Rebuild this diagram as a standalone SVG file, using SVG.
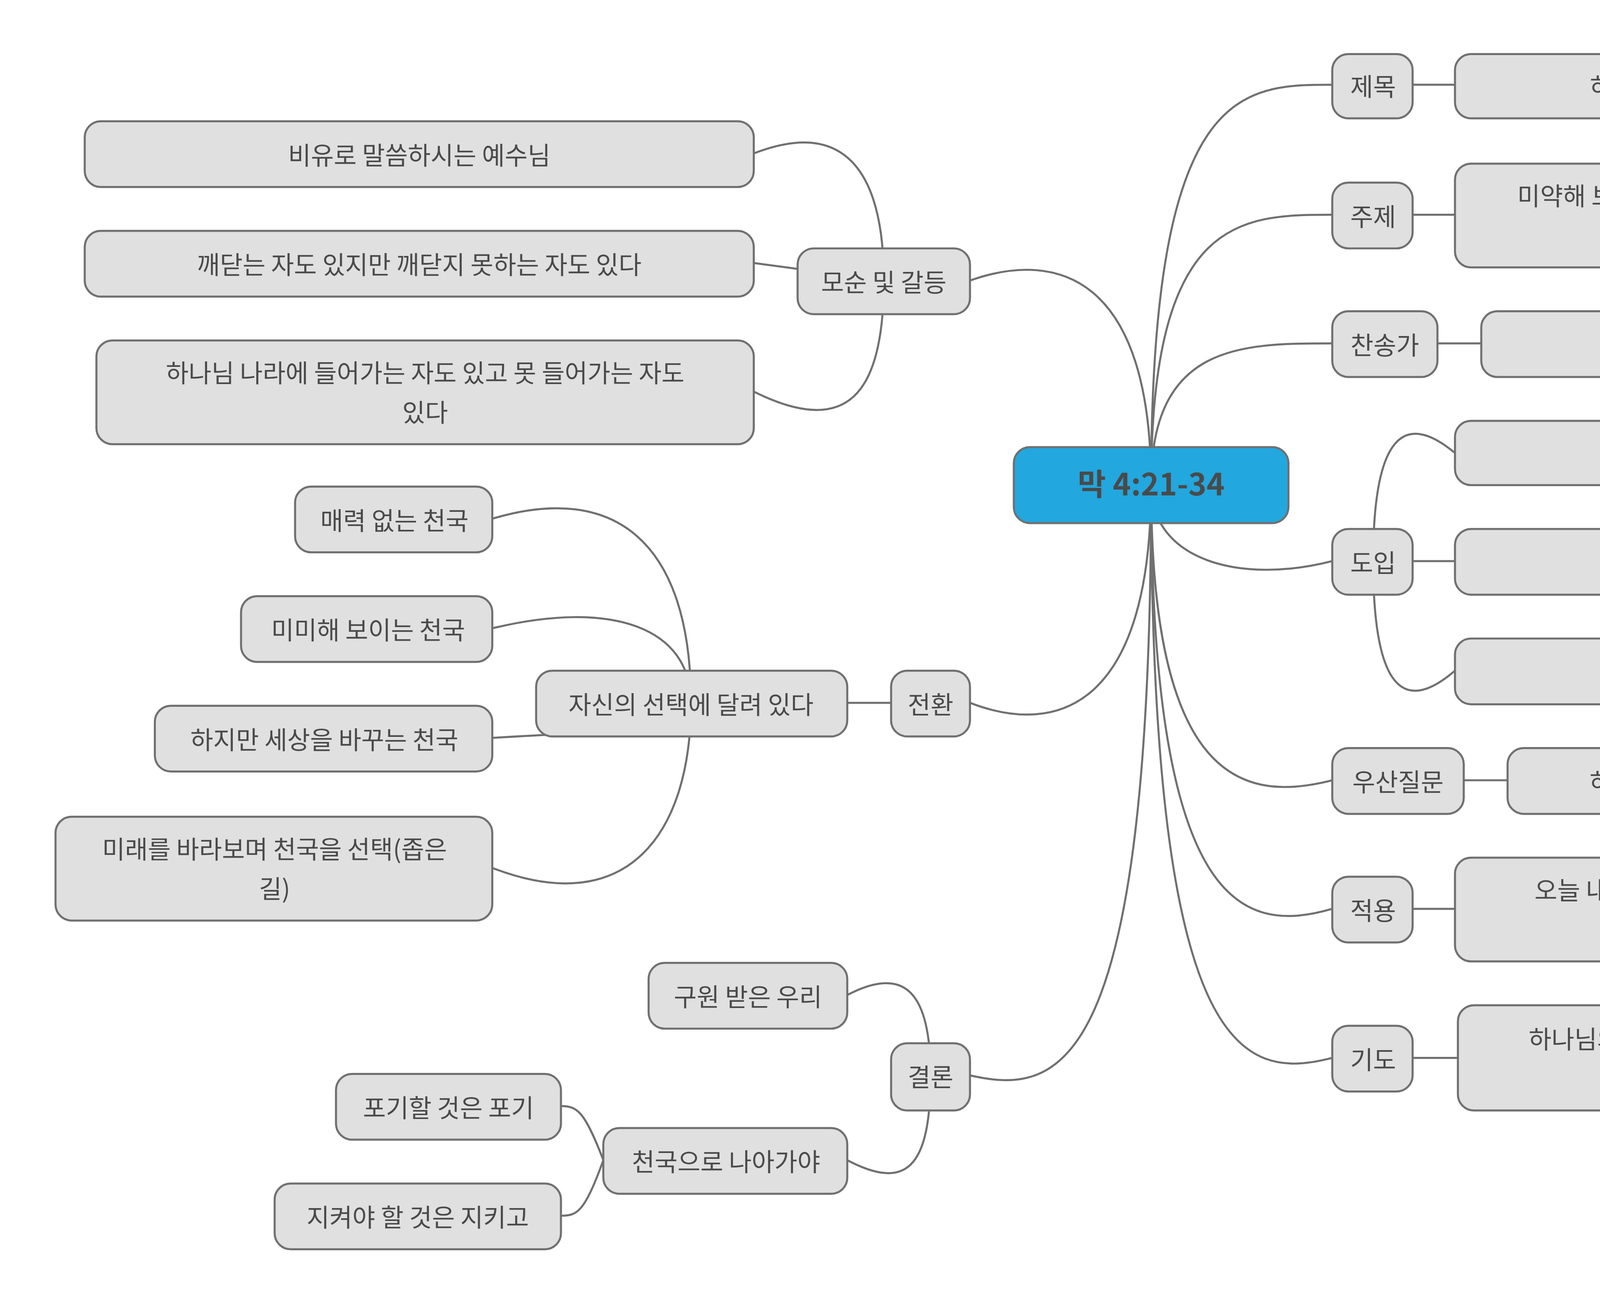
<svg xmlns="http://www.w3.org/2000/svg" width="5834" height="3317" viewBox="0 0 5834 3317">
<style>
.n rect{fill:#e0e0e0;stroke:#707070;stroke-width:1.4}
.n text,.c text{font-family:"Noto Sans CJK KR","Noto Sans",sans-serif;font-size:17px;fill:#4a4a4a;text-anchor:middle;dominant-baseline:central}
#conn path{fill:none;stroke:#707070;stroke-width:1.4}
</style>
<rect width="5834" height="3317" fill="#fff"/>
<g transform="scale(3.7397)">
<g id="conn">
<path d="M788 332 C788 58 850 58 912 58"/>
<path d="M788 332 C788 147 850 147 912 147"/>
<path d="M788 332 C788 235 850 235 912 235"/>
<path d="M788 332 C788 384 850 400 912 384"/>
<path d="M788 332 C788 534 850 550 912 534"/>
<path d="M788 332 C788 622 850 640 912 622"/>
<path d="M788 332 C788 724 850 740 912 724"/>
<path d="M788 332 C788 192 726 170 664 192"/>
<path d="M788 332 C788 481 726 505 664 481"/>
<path d="M788 332 C788 736 726 750 664 736"/>
<path d="M967 58 L996 58"/>
<path d="M967 147 L996 147"/>
<path d="M984 235 L1014 235"/>
<path d="M940 384 C940 300 960 280 996 310"/>
<path d="M967 384 L996 384"/>
<path d="M940 384 C940 470 960 490 996 459"/>
<path d="M1002 534 L1032 534"/>
<path d="M967 622 L996 622"/>
<path d="M967 724 L998 724"/>
<path d="M605 192 C605 120 580 80 516 105"/>
<path d="M605 192 L516 180"/>
<path d="M605 192 C605 270 580 300 516 268"/>
<path d="M610 481 L580 481"/>
<path d="M473 481 C473 370 420 330 337 355"/>
<path d="M473 481 C473 430 420 410 337 430"/>
<path d="M473 481 C473 500 420 500 337 505"/>
<path d="M473 481 C473 570 430 630 337 594"/>
<path d="M637 736 C637 680 620 660 580 681"/>
<path d="M637 736 C637 800 620 815 580 794"/>
<path d="M413 794 C400 760 395 757 384 757"/>
<path d="M413 794 C400 830 395 832 384 832"/>
</g>
<g id="root" class="c"><rect x="694" y="306" width="188" height="52" rx="11" fill="#22a7de" stroke="#707070" stroke-width="1.4"/><text x="788" y="330" style="font-size:21px;font-weight:bold">막 4:21-34</text></g>
<g id="n1" class="n"><rect x="912" y="37" width="55" height="44" rx="11"/><text x="940" y="58">제목</text></g>
<g id="n2" class="n"><rect x="912" y="125" width="55" height="45" rx="11"/><text x="940" y="147">주제</text></g>
<g id="n3" class="n"><rect x="912" y="213" width="72" height="45" rx="11"/><text x="948" y="235">찬송가</text></g>
<g id="n4" class="n"><rect x="912" y="362" width="55" height="45" rx="11"/><text x="940" y="384">도입</text></g>
<g id="n5" class="n"><rect x="912" y="512" width="90" height="45" rx="11"/><text x="957" y="534">우산질문</text></g>
<g id="n6" class="n"><rect x="912" y="600" width="55" height="45" rx="11"/><text x="940" y="622">적용</text></g>
<g id="n7" class="n"><rect x="912" y="702" width="55" height="45" rx="11"/><text x="940" y="724">기도</text></g>
<g id="r1" class="n"><rect x="996" y="37" width="379" height="44" rx="11"/><text x="1186" y="58">하나님의 나라를 지켜가려면</text></g>
<g id="r2" class="n"><rect x="996" y="112" width="455" height="71" rx="11"/><text x="1224" y="133">미약해 보이는 하나님 나라는 우리가 반드시 가야 하는</text><text x="1224" y="160">나라</text></g>
<g id="r3" class="n"><rect x="1014" y="213" width="386" height="45" rx="11"/><text x="1207" y="235"><tspan font-weight="bold">587</tspan> 감사하는 성도여</text></g>
<g id="r4" class="n"><rect x="996" y="288" width="489" height="44" rx="11"/><text x="1240" y="310">재투성이 아가씨, 신데렐라</text></g>
<g id="r5" class="n"><rect x="996" y="362" width="494" height="45" rx="11"/><text x="1243" y="384">왕비가 되어서도 재투성이로 일해야 할까?</text></g>
<g id="r6" class="n"><rect x="996" y="437" width="480" height="45" rx="11"/><text x="1236" y="459">바뀐 신분으로서 살아가야 한다</text></g>
<g id="r7" class="n"><rect x="1032" y="512" width="456" height="45" rx="11"/><text x="1260" y="534">하나님 나라의 백성인 우리는 어떻게 살아야 하나?</text></g>
<g id="r8" class="n"><rect x="996" y="587" width="534" height="71" rx="11"/><text x="1263" y="608">오늘 내가 하나님 나라를 위해 붙잡을 것과 포기할 것은 무엇인</text><text x="1263" y="635">가?</text></g>
<g id="r9" class="n"><rect x="998" y="688" width="531" height="72" rx="11"/><text x="1263" y="710">하나님의 교회가 세상에 안식을 선물하는 선한 영향력을 회복하</text><text x="1263" y="737">게 하소서.</text></g>
<g id="l1" class="n"><rect x="546" y="170" width="118" height="45" rx="11"/><text x="605" y="192">모순 및 갈등</text></g>
<g id="l2" class="n"><rect x="610" y="459" width="54" height="45" rx="11"/><text x="637" y="481">전환</text></g>
<g id="l3" class="n"><rect x="610" y="714" width="54" height="46" rx="11"/><text x="637" y="736">결론</text></g>
<g id="l21" class="n"><rect x="367" y="459" width="213" height="45" rx="11"/><text x="473" y="481">자신의 선택에 달려 있다</text></g>
<g id="l31" class="n"><rect x="413" y="772" width="167" height="45" rx="11"/><text x="497" y="794">천국으로 나아가야</text></g>
<g id="a1" class="n"><rect x="58" y="83" width="458" height="45" rx="11"/><text x="287" y="105">비유로 말씀하시는 예수님</text></g>
<g id="a2" class="n"><rect x="58" y="158" width="458" height="45" rx="11"/><text x="287" y="180">깨닫는 자도 있지만 깨닫지 못하는 자도 있다</text></g>
<g id="a3" class="n"><rect x="66" y="233" width="450" height="71" rx="11"/><text x="291" y="254">하나님 나라에 들어가는 자도 있고 못 들어가는 자도</text><text x="291" y="281">있다</text></g>
<g id="b1" class="n"><rect x="202" y="333" width="135" height="45" rx="11"/><text x="270" y="355">매력 없는 천국</text></g>
<g id="b2" class="n"><rect x="165" y="408" width="172" height="45" rx="11"/><text x="252" y="430">미미해 보이는 천국</text></g>
<g id="b3" class="n"><rect x="106" y="483" width="231" height="45" rx="11"/><text x="222" y="505">하지만 세상을 바꾸는 천국</text></g>
<g id="b4" class="n"><rect x="38" y="559" width="299" height="71" rx="11"/><text x="188" y="580">미래를 바라보며 천국을 선택(좁은</text><text x="188" y="607">길)</text></g>
<g id="c1" class="n"><rect x="444" y="659" width="136" height="45" rx="11"/><text x="512" y="681">구원 받은 우리</text></g>
<g id="c2" class="n"><rect x="230" y="735" width="154" height="45" rx="11"/><text x="307" y="757">포기할 것은 포기</text></g>
<g id="c3" class="n"><rect x="188" y="810" width="196" height="45" rx="11"/><text x="286" y="832">지켜야 할 것은 지키고</text></g>
</g>
</svg>
